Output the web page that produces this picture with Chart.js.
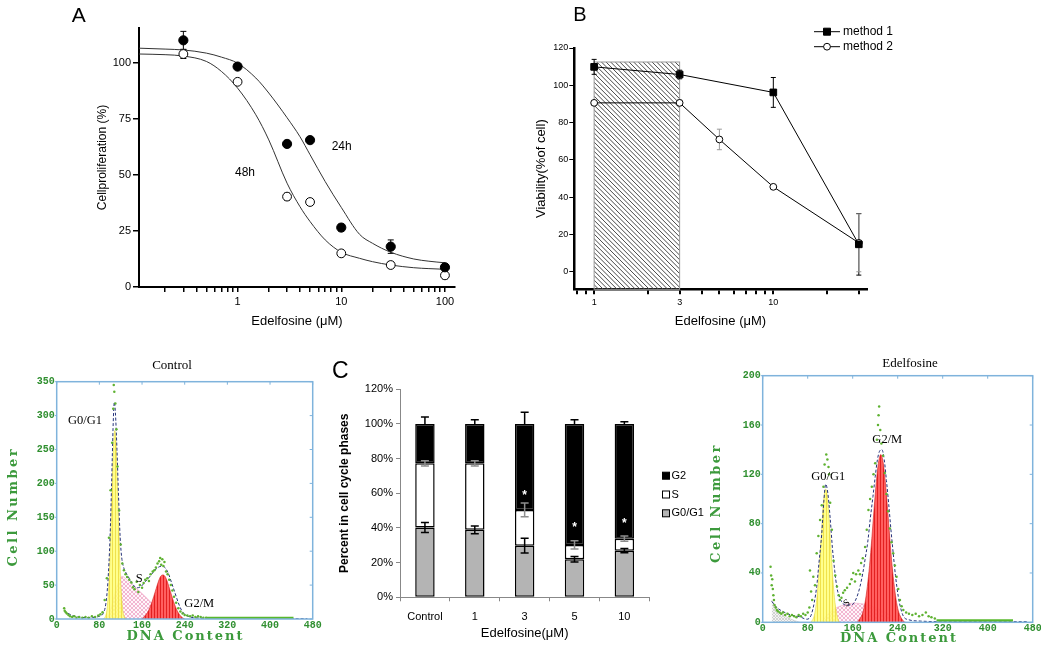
<!DOCTYPE html>
<html>
<head>
<meta charset="utf-8">
<script src="https://cdn.jsdelivr.net/npm/chart.js@4.4.1/dist/chart.umd.min.js"></script>
<style>
  html, body { margin: 0; padding: 0; background: #fff; }
  body { position: relative; width: 1041px; height: 646px; overflow: hidden; }
  canvas { position: absolute; }
</style>
</head>
<body>
<canvas id="chartA" style="left:60px;top:0px" width="420" height="335"></canvas>
<canvas id="chartB" style="left:520px;top:0px" width="420" height="335"></canvas>
<canvas id="flowCtl" style="left:0px;top:340px" width="330" height="306"></canvas>
<canvas id="chartC" style="left:330px;top:340px" width="380" height="306"></canvas>
<canvas id="flowEdel" style="left:690px;top:340px" width="360" height="306"></canvas>
<script>
// ---- A: proliferation vs dose ----
const doseA = [0.3, 1, 3, 5, 10, 30, 100];
const prolif24h = [110, 98.3, 63.8, 65.5, 26.5, 18, 8.8];
const err24h = [4, 1, 1.5, 1, 1.5, 3, 0.8];
const prolif48h = [103.9, 91.5, 40.3, 37.9, 15, 9.8, 5.2];
const err48h = [2, 1, 1.5, 1.5, 1, 1.5, 1.5];
const fitDoseA = [0.112, 0.2, 0.3, 0.5, 0.7, 1, 1.5, 2, 3, 4, 5, 7, 10, 15, 20, 30, 50, 70, 100];
const fit24h = [106.5, 106.1, 105.7, 104.3, 102.5, 99.8, 93.2, 86.5, 75.5, 67, 59, 47, 35.5, 23.5, 19.5, 15.5, 12.5, 11.5, 10.8];
const fit48h = [103.9, 103.6, 103, 100.6, 96.1, 88.7, 76.8, 65.6, 46.3, 35.8, 29.2, 21, 15.5, 12.8, 11.3, 9.8, 8.6, 8.2, 7.9];
const tickDoseA = [0.2, 0.3, 0.4, 0.5, 0.6, 0.7, 0.8, 0.9, 1, 2, 3, 4, 5, 6, 7, 8, 9, 10, 20, 30, 40, 50, 60, 70, 80, 90, 100];
const labelDoseA = [1, 10, 100];
const tickProlif = [0, 25, 50, 75, 100];

// ---- B: viability, two methods ----
const doseB1 = [1, 3, 10, 30];
const viab1 = [109.9, 105.8, 96.2, 14.8];
const errB1 = [4, 2.3, 8, 16.5];
const doseB2 = [1, 3, 5, 10, 30];
const viab2 = [90.6, 90.6, 71, 45.6, 15.6];
const errB2 = [1, 1.5, 5.5, 1, 15.5];
const hatchDose = [1, 3];
const hatchTop = 112.5;
const tickDoseB = [0.8, 0.9, 1, 2, 3, 4, 5, 6, 7, 8, 9, 10, 20, 30];
const labelDoseB = [1, 3, 10];
const tickViab = [0, 20, 40, 60, 80, 100, 120];

// ---- C: cell cycle phases ----
const phaseCats = ['Control', '1', '3', '5', '10'];
const g0g1 = [40.3, 38.9, 29.8, 21.9, 26.9];
const sPhase = [37, 38.4, 20.6, 8.3, 6.9];
const g2Phase = [22.7, 22.7, 49.6, 69.8, 66.2];
const errG0 = [2.9, 2.3, 4.2, 1.6, 1.2];
const errS = [1.5, 1.5, 4, 2.4, 1.5];
const errG2 = [4, 2.5, 6.8, 2.4, 1.3];
const starAt = [null, null, 60, 41.3, 43.6];
const tickPct = [0, 20, 40, 60, 80, 100, 120];

// ---- flow histograms: Control ----
const ctlDotX = [14,15,17,19,22,25,29,33,37,42,48,54,60,66,72,78,82,86,90,94,98,101,104,106,107,108,110,112,114,117,120,123,126,129,132,136,140,143,146,150,153,156,160,163,166,170,173,176,180,183,186,189,192,194,196,198,200,202,205,208,211,214,217,220,224,228,232,236,240,245,250,255,260,265,270,275,280];
const ctlDotY = [16,12,10,8,6,4,3,4,2,3,2,3,2,4,3,5,7,10,28,60,120,190,260,310,345,335,318,280,225,160,110,82,72,66,62,58,54,47,44,55,40,50,46,53,58,60,56,66,70,72,76,82,85,90,80,88,78,84,70,66,58,50,42,33,24,16,11,8,6,5,4,5,3,4,3,2,2];
const ctlFlatX = [281, 444];
const ctlFlatY = [1.5, 1.5];
const ctlFitX = [14,20,30,40,55,70,80,87,92,96,100,103,106,108,110,113,116,119,122,126,130,136,142,150,158,166,174,182,190,197,204,210,216,222,228,234,240,250,265,290,330,400,470];
const ctlFitY = [13,9,5,3,2,2.5,4,8,22,55,120,200,290,320,305,250,180,120,90,75,68,60,52,46,48,55,62,70,76,78,75,66,52,38,24,13,7,3,1.5,1,0.5,0.5,0.5];
const ctlG1X = [87,91,95,99,103,106,109,112,115,119,123,127,131];
const ctlG1Y = [0,3,19,72,171,246,278,246,171,72,19,3,0];
const ctlSX = [94,100,106,112,117,122,135,150,165,180,195,210];
const ctlSY = [0,10,28,45,57,63,55,45,34,22,11,0];
const ctlG2X = [160,165,172,179,185,191,195,199,203,207,213,219,226,234,240];
const ctlG2Y = [0,4,12,26,41,56,63,65,63,56,41,26,12,3,0];
const ctlCountTicks = [0, 50, 100, 150, 200, 250, 300, 350];

// ---- flow histograms: Edelfosine ----
const edDotX = [14,15,16,17,18,19,20,21,23,25,27,30,33,36,40,44,48,52,56,60,64,68,72,76,80,83,84,86,88,90,93,96,99,102,105,108,110,113,115,117,118,120,123,126,129,132,135,137,140,143,146,150,155,158,161,164,166,170,173,175,178,182,185,188,191,194,197,200,203,205,206,207,209,211,214,217,220,223,226,229,232,235,238,241,244,247,250,255,260,266,272,278,284,290,295,300,306];
const edDotY = [45,38,30,35,27,22,18,14,12,10,9,8,7,8,6,7,5,6,5,4,6,5,7,6,8,12,42,25,18,37,30,56,70,83,95,110,128,136,132,126,120,97,75,50,38,29,22,18,20,24,26,28,31,35,40,33,39,42,39,48,52,61,75,91,100,110,120,129,148,160,168,175,156,145,135,121,104,90,76,65,56,46,37,27,18,13,10,8,7,6,7,5,6,8,5,4,3];
const edFlatX = [309, 445];
const edFlatY = [1.5, 1.5];
const edFitX = [16,25,37,50,66,78,87,96,100,105,109,112,116,120,124,128,132,137,143,149,155,161,167,173,178,182,187,191,196,200,204,208,212,216,220,224,228,232,236,241,245,250,260,280,320,400,470];
const edFitY = [17,12,8.5,6,4.5,2.5,7,29,48,72,100,112,104,84,60,42,28,20,15,14,14,15,20,29,40,51,66,83,102,118,132,139,140,132,115,96,75,56,38,21,12,5,2,1,0.5,0.5,0.5];
const edG1X = [86,92,96,100,104,108,112,116,120,124,128,132,136];
const edG1Y = [0,6,18,40,69,97,108,97,69,40,18,6,0];
const edSX = [104,115,128,140,152,164,176,188,200,215,230,245,255];
const edSY = [0,6,11,13.5,15,15.5,15,14,12,9,5,2,0];
const edG2X = [168,173,178,182,186,190,194,198,202,206,210,214,218,222,226,230,234,238,242,247,252];
const edG2Y = [0,3,8,16,29,46,68,92,114,130,136,130,114,92,68,46,29,16,8,3,0];
const edDebX = [16,20,26,32,40,48,56,66];
const edDebY = [18,15,11,8,5,3,1.5,0];
const edCountTicks = [0, 40, 80, 120, 160, 200];
const dnaTicks = [0, 80, 160, 240, 320, 400, 480];

Chart.defaults.font.family = '"Liberation Sans", Arial, sans-serif';
Chart.defaults.color = '#000';

function pts(xs, ys) { return xs.map((x, i) => ({ x: x, y: ys[i] })); }
function setTicks(list) { return s => { s.ticks = list.map(v => ({ value: v })); }; }

// error bars drawn from dataset.errors, in value units
function drawErrors(chart) {
  const ctx = chart.ctx, ys = chart.scales.y;
  chart.data.datasets.forEach((ds, i) => {
    if (!ds.errors) return;
    const meta = chart.getDatasetMeta(i);
    ctx.save();
    ctx.strokeStyle = ds.errorColor || '#000';
    ctx.lineWidth = ds.errorWidth || 1;
    meta.data.forEach((el, j) => {
      const e = ds.errors[j];
      if (!e) return;
      const h = Math.abs(ys.getPixelForValue(0) - ys.getPixelForValue(e));
      const top = el.y - h, bot = ds.errorUpOnly ? el.y : el.y + h, cap = ds.errorCap || 3;
      ctx.beginPath();
      ctx.moveTo(el.x, top); ctx.lineTo(el.x, bot);
      ctx.moveTo(el.x - cap, top); ctx.lineTo(el.x + cap, top);
      if (!ds.errorUpOnly) { ctx.moveTo(el.x - cap, bot); ctx.lineTo(el.x + cap, bot); }
      ctx.stroke();
    });
    ctx.restore();
  });
}
function errorPlugin(after) {
  return after ? { id: 'errAfter', afterDatasetsDraw: drawErrors } : { id: 'errBefore', beforeDatasetsDraw: drawErrors };
}
function notes(items) {
  return {
    id: 'notes',
    afterDraw(chart) {
      const ctx = chart.ctx;
      items.forEach(n => {
        ctx.save();
        ctx.font = n.font;
        ctx.fillStyle = n.color || '#000';
        ctx.textAlign = n.align || 'center';
        ctx.textBaseline = n.baseline || 'middle';
        if (n.spacing) ctx.letterSpacing = n.spacing;
        ctx.translate(n.x, n.y);
        if (n.rot) ctx.rotate(n.rot);
        ctx.fillText(n.text, 0, 0);
        ctx.restore();
      });
    }
  };
}
const base = { responsive: false, animation: false, events: [] };

// ---------- Panel A ----------
new Chart(document.getElementById('chartA'), {
  type: 'line',
  data: {
    datasets: [
      { label: '24h', data: pts(doseA, prolif24h), showLine: false, pointRadius: 4.6, pointBackgroundColor: '#000', pointBorderColor: '#000', errors: err24h, order: 0 },
      { label: '48h', data: pts(doseA, prolif48h), showLine: false, pointRadius: 4.4, pointBackgroundColor: '#fff', pointBorderColor: '#000', pointBorderWidth: 1, errors: err48h, order: 1 },
      { label: 'fit 24h', data: pts(fitDoseA, fit24h), borderColor: '#333', borderWidth: 1, pointRadius: 0, cubicInterpolationMode: 'monotone', order: 2 },
      { label: 'fit 48h', data: pts(fitDoseA, fit48h), borderColor: '#333', borderWidth: 1, pointRadius: 0, cubicInterpolationMode: 'monotone', order: 3 }
    ]
  },
  options: Object.assign({}, base, {
    layout: { padding: { left: 0, right: 25, top: 28, bottom: 0 } },
    plugins: { legend: { display: false }, tooltip: { enabled: false } },
    scales: {
      x: {
        type: 'logarithmic', min: 0.112, max: 125,
        afterBuildTicks: setTicks(tickDoseA),
        ticks: { autoSkip: false, maxRotation: 0, padding: 3, font: { size: 11 }, callback: v => labelDoseA.includes(v) ? String(v) : '' },
        grid: { drawOnChartArea: false, tickLength: 5, color: '#000', lineWidth: 1.5 },
        border: { color: '#000', width: 2 },
        title: { display: true, text: 'Edelfosine (μM)', font: { size: 13 }, padding: { top: 0, bottom: 5.5 } },
        afterFit: s => { s.height = 48; }
      },
      y: {
        min: 0, max: 115.5,
        afterBuildTicks: setTicks(tickProlif),
        ticks: { autoSkip: false, padding: 2, font: { size: 11 } },
        grid: { drawOnChartArea: false, tickLength: 6, color: '#000', lineWidth: 1.5 },
        border: { color: '#000', width: 2 },
        title: { display: true, text: 'Cellproliferation (%)', font: { size: 12 }, padding: { top: 35.5, bottom: 0 } },
        afterFit: s => { s.width = 79; }
      }
    }
  }),
  plugins: [errorPlugin(false), notes([
    { text: 'A', x: 11.7, y: 21.7, font: '21px "Liberation Sans"', align: 'left', baseline: 'alphabetic' },
    { text: '24h', x: 281.7, y: 146.7, font: '12px "Liberation Sans"' },
    { text: '48h', x: 185, y: 172.7, font: '12px "Liberation Sans"' }
  ])]
});

// ---------- Panel B ----------
const hatchPlugin = {
  id: 'hatch',
  beforeDatasetsDraw(chart) {
    const { ctx, chartArea } = chart, xs = chart.scales.x, ys = chart.scales.y;
    const x1 = xs.getPixelForValue(hatchDose[0]), x2 = xs.getPixelForValue(hatchDose[1]);
    const y1 = ys.getPixelForValue(hatchTop), y2 = chartArea.bottom, h = y2 - y1;
    ctx.save();
    ctx.beginPath(); ctx.rect(x1, y1, x2 - x1, h); ctx.clip();
    ctx.strokeStyle = '#333'; ctx.lineWidth = 0.9;
    ctx.beginPath();
    for (let s = x1 - h; s < x2; s += 4.6) { ctx.moveTo(s, y1); ctx.lineTo(s + h, y2); }
    ctx.stroke();
    ctx.restore();
    ctx.save(); ctx.strokeStyle = '#999'; ctx.lineWidth = 1; ctx.strokeRect(x1, y1, x2 - x1, h); ctx.restore();
  }
};
const legendB = {
  id: 'legendB',
  afterDraw(chart) {
    const ctx = chart.ctx;
    chart.data.datasets.forEach((ds, i) => {
      const y = 31.7 + i * 15;
      ctx.save();
      ctx.strokeStyle = '#000'; ctx.lineWidth = 1;
      ctx.beginPath(); ctx.moveTo(294, y); ctx.lineTo(320, y); ctx.stroke();
      ctx.fillStyle = ds.pointBackgroundColor;
      ctx.beginPath();
      if (ds.pointStyle === 'rect') ctx.rect(303.5, y - 3.5, 7, 7); else ctx.arc(307, y, 3.4, 0, Math.PI * 2);
      ctx.fill(); ctx.stroke();
      ctx.fillStyle = '#000'; ctx.font = '12px "Liberation Sans"'; ctx.textBaseline = 'middle';
      ctx.fillText(ds.label, 323, y);
      ctx.restore();
    });
  }
};
new Chart(document.getElementById('chartB'), {
  type: 'line',
  data: {
    datasets: [
      { label: 'method 1', data: pts(doseB1, viab1), borderColor: '#000', borderWidth: 1, pointStyle: 'rect', pointRadius: 4.7, pointBackgroundColor: '#000', pointBorderColor: '#000', errors: errB1, errorColor: '#000', errorCap: 2.5 },
      { label: 'method 2', data: pts(doseB2, viab2), borderColor: '#000', borderWidth: 1, pointStyle: 'circle', pointRadius: 3.4, pointBackgroundColor: '#fff', pointBorderColor: '#000', pointBorderWidth: 1, errors: errB2, errorColor: '#999', errorCap: 2.5 }
    ]
  },
  options: Object.assign({}, base, {
    layout: { padding: { left: 0, right: 73.3, top: 48, bottom: 0 } },
    plugins: { legend: { display: false }, tooltip: { enabled: false } },
    scales: {
      x: {
        type: 'logarithmic', min: 0.775, max: 33.2,
        afterBuildTicks: setTicks(tickDoseB),
        ticks: { autoSkip: false, maxRotation: 0, padding: 3, font: { size: 9 }, callback: v => labelDoseB.includes(v) ? String(v) : '' },
        grid: { drawOnChartArea: false, tickLength: 5, color: '#000', lineWidth: 2 },
        border: { color: '#000', width: 2.5 },
        title: { display: true, text: 'Edelfosine (μM)', font: { size: 13 }, padding: { top: 0, bottom: 5.5 } },
        afterFit: s => { s.height = 45.7; }
      },
      y: {
        min: -9.3, max: 120,
        afterBuildTicks: setTicks(tickViab),
        ticks: { autoSkip: false, padding: 1, font: { size: 9 } },
        grid: { drawOnChartArea: false, tickLength: 5, color: '#000', lineWidth: 1 },
        border: { color: '#000', width: 2.5 },
        title: { display: true, text: 'Viability(%of cell)', font: { size: 13 }, padding: { top: 14, bottom: 0 } },
        afterFit: s => { s.width = 54.3; }
      }
    }
  }),
  plugins: [hatchPlugin, errorPlugin(false), legendB, notes([
    { text: 'B', x: 53.3, y: 20.7, font: '20px "Liberation Sans"', align: 'left', baseline: 'alphabetic' }
  ])]
});

// ---------- Panel C ----------
const legendC = {
  id: 'legendC',
  afterDraw(chart) {
    const ctx = chart.ctx, dsets = chart.data.datasets.slice().reverse();
    dsets.forEach((ds, i) => {
      const y = 135.7 + i * 18.8;
      ctx.save();
      ctx.fillStyle = ds.backgroundColor; ctx.strokeStyle = '#000'; ctx.lineWidth = 1;
      ctx.fillRect(332.5, y - 3.5, 7, 7); ctx.strokeRect(332.5, y - 3.5, 7, 7);
      ctx.fillStyle = '#000'; ctx.font = '11px "Liberation Sans"'; ctx.textBaseline = 'middle';
      ctx.fillText(ds.label, 341.5, y);
      ctx.restore();
    });
  }
};
const starsC = {
  id: 'starsC',
  afterDatasetsDraw(chart) {
    const ctx = chart.ctx, meta = chart.getDatasetMeta(0), ys = chart.scales.y;
    ctx.save();
    ctx.fillStyle = '#fff'; ctx.font = 'bold 12px "Liberation Sans"'; ctx.textAlign = 'center'; ctx.textBaseline = 'middle';
    starAt.forEach((v, i) => { if (v != null) ctx.fillText('*', meta.data[i].x, ys.getPixelForValue(v) + 2); });
    ctx.restore();
  }
};
const barStyle = { borderColor: '#000', borderWidth: 1.5, borderSkipped: false, barPercentage: 0.39, categoryPercentage: 1, errorCap: 4, errorWidth: 1.5 };
new Chart(document.getElementById('chartC'), {
  type: 'bar',
  data: {
    labels: phaseCats,
    datasets: [
      Object.assign({ label: 'G0/G1', data: g0g1, backgroundColor: '#b4b4b4', errors: errG0, errorColor: '#000' }, barStyle),
      Object.assign({ label: 'S', data: sPhase, backgroundColor: '#ffffff', errors: errS, errorColor: '#8e8e8e' }, barStyle),
      Object.assign({ label: 'G2', data: g2Phase, backgroundColor: '#000000', errors: errG2, errorColor: '#000', errorUpOnly: true }, barStyle)
    ]
  },
  options: Object.assign({}, base, {
    layout: { padding: { left: 0, right: 60.7, top: 49.3, bottom: 0 } },
    plugins: { legend: { display: false }, tooltip: { enabled: false } },
    scales: {
      x: {
        stacked: true,
        ticks: { padding: 9, font: { size: 11 } },
        grid: { drawOnChartArea: false, tickLength: 4, color: '#888' },
        border: { color: '#888', width: 1 },
        title: { display: true, text: 'Edelfosine(μM)', font: { size: 13 }, padding: { top: 0, bottom: 5 } },
        afterFit: s => { s.height = 48.7; }
      },
      y: {
        stacked: true, min: 0, max: 120,
        afterBuildTicks: setTicks(tickPct),
        ticks: { autoSkip: false, padding: 3, font: { size: 11 }, callback: v => v + '%' },
        grid: { drawOnChartArea: false, tickLength: 4, color: '#888' },
        border: { color: '#888', width: 1 },
        title: { display: true, text: 'Percent in cell cycle phases', font: { size: 12, weight: 'bold' }, padding: { top: 7.8, bottom: 0 } },
        afterFit: s => { s.width = 70; }
      }
    }
  }),
  plugins: [errorPlugin(true), starsC, legendC, notes([
    { text: 'C', x: 2, y: 38.3, font: '23px "Liberation Sans"', align: 'left', baseline: 'alphabetic' }
  ])]
});

// ---------- flow cytometry histograms ----------
function hatchFill(bg, fg, size, lw, kind) {
  const c = document.createElement('canvas');
  c.width = size; c.height = size;
  const g = c.getContext('2d');
  g.fillStyle = bg; g.fillRect(0, 0, size, size);
  g.strokeStyle = fg; g.lineWidth = lw;
  g.beginPath();
  if (kind === 'v') { g.moveTo(size / 2, 0); g.lineTo(size / 2, size); }
  else { g.moveTo(0, 0); g.lineTo(size, size); g.moveTo(size, 0); g.lineTo(0, size); }
  g.stroke();
  return g.createPattern(c, 'repeat');
}
const yellowFill = hatchFill('rgba(255,255,120,0.85)', 'rgba(238,222,70,0.9)', 3, 1, 'v');
const redFill = hatchFill('rgba(255,86,86,0.95)', 'rgba(226,30,30,0.95)', 3, 1, 'v');
const pinkFill = hatchFill('#fff6fa', '#efa6c6', 4, 0.8, 'x');
const grayFill = hatchFill('#f4f4f4', '#cacaca', 3, 0.8, 'x');
const green = '#2f8f2f';
const frameBlue = '#7fb3dc';

function flowFrame(xTicks, yTicks) {
  return {
    id: 'flowFrame',
    afterDatasetsDraw(chart) {
      const { ctx, chartArea: a } = chart, xs = chart.scales.x, ys = chart.scales.y;
      ctx.save();
      ctx.strokeStyle = frameBlue; ctx.lineWidth = 1.5;
      ctx.strokeRect(a.left, a.top, a.right - a.left, a.bottom - a.top);
      ctx.lineWidth = 1;
      ctx.beginPath();
      xTicks.forEach(v => { const x = xs.getPixelForValue(v); ctx.moveTo(x, a.top); ctx.lineTo(x, a.top + 3); });
      yTicks.forEach(v => { const y = ys.getPixelForValue(v); ctx.moveTo(a.right, y); ctx.lineTo(a.right - 3, y); ctx.moveTo(a.left, y); ctx.lineTo(a.left - 2, y); });
      ctx.stroke();
      ctx.restore();
    }
  };
}
function flowChart(id, o) {
  const line = { pointRadius: 0, cubicInterpolationMode: 'monotone' };
  const datasets = [
    { data: pts(o.dotX, o.dotY), showLine: false, pointRadius: 1.25, pointBorderWidth: 0, pointBackgroundColor: '#5fb232', order: 0 },
    Object.assign({ data: pts(o.flatX, o.flatY), borderColor: '#58b82c', borderWidth: 2.5, order: 1 }, line),
    Object.assign({ data: pts(o.fitX, o.fitY), borderColor: '#26337a', borderWidth: 1, borderDash: [3, 2], order: 2 }, line),
    Object.assign({ data: pts(o.g2X, o.g2Y), fill: 'origin', backgroundColor: redFill, borderColor: '#d42020', borderWidth: 0.6, order: 3 }, line),
    Object.assign({ data: pts(o.g1X, o.g1Y), fill: 'origin', backgroundColor: yellowFill, borderColor: '#e6d640', borderWidth: 0.6, order: 4 }, line),
    Object.assign({ data: pts(o.sX, o.sY), fill: 'origin', backgroundColor: pinkFill, borderColor: '#f0a8c8', borderWidth: 0.6, order: 5 }, line)
  ];
  if (o.debX) datasets.push(Object.assign({ data: pts(o.debX, o.debY), fill: 'origin', backgroundColor: grayFill, borderColor: '#c8c8c8', borderWidth: 0.6, order: 6 }, line));
  const tickFont = { family: '"Liberation Mono", monospace', size: 10, weight: 'bold' };
  return new Chart(document.getElementById(id), {
    type: 'line',
    data: { datasets: datasets },
    options: Object.assign({}, base, {
      layout: { padding: o.pad },
      plugins: { legend: { display: false }, tooltip: { enabled: false } },
      scales: {
        x: {
          type: 'linear', min: 0, max: 480,
          afterBuildTicks: setTicks(dnaTicks),
          ticks: { color: green, font: tickFont, padding: 0, autoSkip: false, maxRotation: 0 },
          grid: { display: false, drawTicks: false }, border: { display: false },
          afterFit: s => { s.height = o.xH; }
        },
        y: {
          type: 'linear', min: 0, max: o.yMax,
          afterBuildTicks: setTicks(o.yTicks),
          ticks: { color: green, font: tickFont, padding: 2, autoSkip: false },
          grid: { display: false, drawTicks: false }, border: { display: false },
          afterFit: s => { s.width = o.yW; }
        }
      }
    }),
    plugins: [flowFrame(dnaTicks, o.yTicks), notes(o.notes)]
  });
}
const axisFont = 'bold 13px "DejaVu Serif"';
flowChart('flowCtl', {
  dotX: ctlDotX, dotY: ctlDotY, flatX: ctlFlatX, flatY: ctlFlatY, fitX: ctlFitX, fitY: ctlFitY,
  g1X: ctlG1X, g1Y: ctlG1Y, sX: ctlSX, sY: ctlSY, g2X: ctlG2X, g2Y: ctlG2Y,
  yMax: 350, yTicks: ctlCountTicks,
  pad: { left: 0, right: 17.3, top: 41.7, bottom: 0 }, xH: 27, yW: 56.7,
  notes: [
    { text: 'Control', x: 172, y: 26, font: '13px "Liberation Serif"' },
    { text: 'G0/G1', x: 85, y: 80.7, font: '12.5px "Liberation Serif"' },
    { text: 'S', x: 139.3, y: 238.3, font: '12.5px "Liberation Serif"' },
    { text: 'G2/M', x: 199.3, y: 263.3, font: '12.5px "Liberation Serif"' },
    { text: 'DNA Content', x: 185.5, y: 296.7, font: axisFont, color: '#3c9a3c', spacing: '2px' },
    { text: 'Cell Number', x: 13.3, y: 166.7, font: axisFont, color: '#3c9a3c', spacing: '2.5px', rot: -Math.PI / 2 }
  ]
});
flowChart('flowEdel', {
  dotX: edDotX, dotY: edDotY, flatX: edFlatX, flatY: edFlatY, fitX: edFitX, fitY: edFitY,
  g1X: edG1X, g1Y: edG1Y, sX: edSX, sY: edSY, g2X: edG2X, g2Y: edG2Y, debX: edDebX, debY: edDebY,
  yMax: 200, yTicks: edCountTicks,
  pad: { left: 0, right: 17.3, top: 35.7, bottom: 0 }, xH: 23.7, yW: 72.7,
  notes: [
    { text: 'Edelfosine', x: 220, y: 24, font: '13px "Liberation Serif"' },
    { text: 'G0/G1', x: 138.3, y: 136.7, font: '12.5px "Liberation Serif"' },
    { text: 'G2/M', x: 197.3, y: 100, font: '12.5px "Liberation Serif"' },
    { text: 'S', x: 156.7, y: 263.3, font: '10px "Liberation Serif"', rot: -0.6 },
    { text: 'DNA Content', x: 209, y: 298.3, font: axisFont, color: '#3c9a3c', spacing: '2px' },
    { text: 'Cell Number', x: 26.7, y: 163, font: axisFont, color: '#3c9a3c', spacing: '2.5px', rot: -Math.PI / 2 }
  ]
});
</script>
</body>
</html>
